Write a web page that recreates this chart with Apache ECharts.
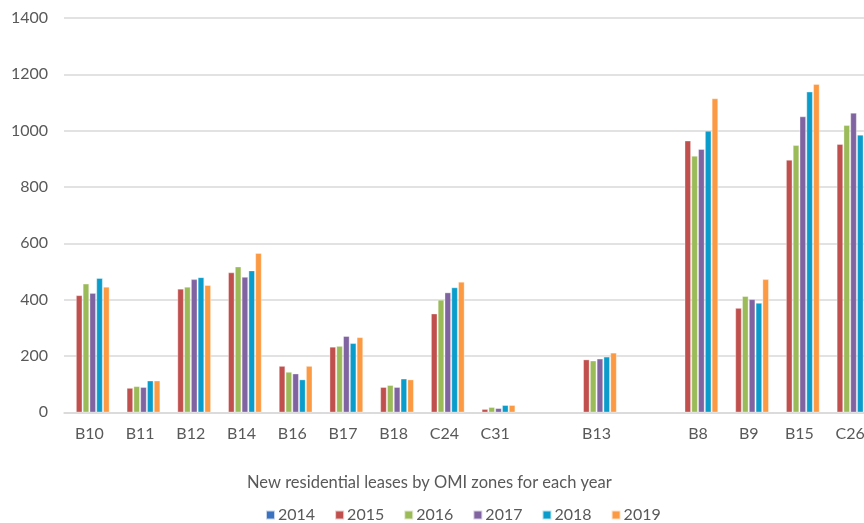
<!DOCTYPE html>
<html>
<head>
<meta charset="utf-8">
<script src="https://cdn.jsdelivr.net/npm/echarts@6/dist/echarts.min.js"></script>
<style>
  html, body { margin: 0; padding: 0; background: #ffffff; overflow: hidden; }
  #chart { width: 864px; height: 523px; }
</style>
</head>
<body>
<div id="chart"></div>
<script>
// OMI zones; empty strings are spacer slots between zone groups
const zones = ['B10', 'B11', 'B12', 'B14', 'B16', 'B17', 'B18', 'C24', 'C31', '', 'B13', '', 'B8', 'B9', 'B15', 'C26'];
const years = ['2014', '2015', '2016', '2017', '2018', '2019'];

// New residential leases per zone, one array per year
const y2014 = [null, null, null, null, null, null, null, null, null, null, null, null, null, null, null, null];
const y2015 = [415, 86, 438, 496, 164, 232, 89, 350, 11, null, 187, null, 964, 370, 896, 952];
const y2016 = [456, 92, 445, 517, 143, 235, 96, 399, 18, null, 183, null, 910, 412, 948, 1019];
const y2017 = [423, 89, 472, 480, 137, 270, 89, 425, 14, null, 190, null, 934, 401, 1050, 1063];
const y2018 = [476, 112, 479, 503, 116, 245, 119, 443, 25, null, 197, null, 999, 388, 1138, 985];
const y2019 = [445, 112, 451, 565, 164, 266, 116, 463, 25, null, 211, null, 1114, 472, 1165, 1083];

const yearValues = [y2014, y2015, y2016, y2017, y2018, y2019];
const yearColors = ['#3A72C0', '#C0504D', '#9BBB59', '#8064A2', '#0A9DCB', '#FB9A43'];

const yTicks = { min: 0, max: 1400, step: 200 };

const FONT = 'Lato';
const TEXT = '#595959';
const GRID_LINE = '#d9d9d9';

const chart = echarts.init(document.getElementById('chart'));

chart.setOption({
  animation: false,
  textStyle: { fontFamily: FONT },
  title: {
    text: 'New residential leases by OMI zones for each year',
    left: 247,
    top: 474,
    padding: 0,
    textStyle: { fontFamily: FONT, fontSize: 16.5, fontWeight: 'normal', color: TEXT }
  },
  legend: {
    data: years,
    left: 265,
    top: 507,
    padding: 0,
    itemWidth: 9,
    itemHeight: 9,
    itemGap: 19,
    icon: 'rect',
    textStyle: { fontFamily: FONT, fontSize: 16, color: TEXT, padding: [0, 0, 0, -2] }
  },
  // plot area runs a little past the right edge of the canvas
  grid: {
    left: 64,
    top: 18,
    width: 811.5,
    height: 394.3,
    containLabel: false,
    outerBoundsMode: 'none'
  },
  xAxis: {
    type: 'category',
    data: zones,
    axisTick: { show: false },
    axisLine: { lineStyle: { color: GRID_LINE, width: 1.5 } },
    axisLabel: { fontFamily: FONT, fontSize: 16, color: TEXT, margin: 14, interval: 0 }
  },
  yAxis: {
    type: 'value',
    min: yTicks.min,
    max: yTicks.max,
    interval: yTicks.step,
    axisLine: { show: false },
    axisTick: { show: false },
    splitLine: { lineStyle: { color: GRID_LINE, width: 1.5 } },
    axisLabel: {
      fontFamily: FONT, fontSize: 16, color: TEXT, margin: 16,
      formatter: (v) => String(v)
    }
  },
  series: years.map((yr, i) => ({
    name: yr,
    type: 'bar',
    data: yearValues[i],
    barGap: '11%',
    barCategoryGap: '21%',
    itemStyle: {
      color: yearColors[i],
      borderColor: 'rgba(255,255,255,0.7)',
      borderWidth: 0.5
    }
  }))
});
</script>
</body>
</html>
